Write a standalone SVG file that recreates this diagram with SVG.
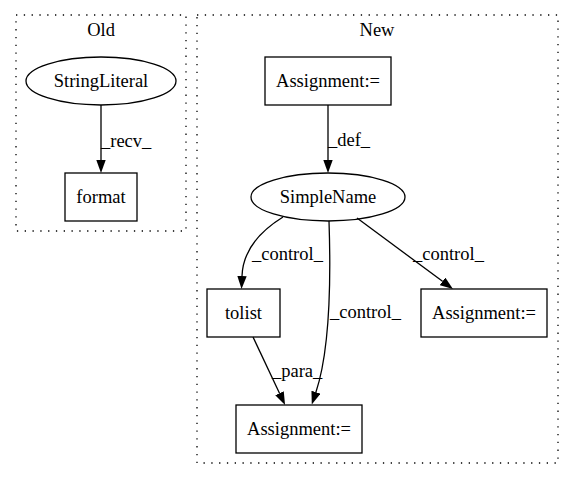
<svg xmlns="http://www.w3.org/2000/svg" width="573" height="480" viewBox="0 0 573 480">
<style>
text{font-family:"Liberation Serif","Times New Roman",serif;font-size:18.5px;fill:#000}
.c{text-anchor:middle}
.cl{fill:none;stroke:#000;stroke-width:1.3;stroke-dasharray:1.3,6.5}
.n{fill:none;stroke:#000;stroke-width:1.3}
.e{fill:none;stroke:#000;stroke-width:1.3}
</style>
<defs>
<marker id="a" markerUnits="userSpaceOnUse" viewBox="0 0 13 9.4" refX="0" refY="4.7" markerWidth="13" markerHeight="9.4" orient="auto">
<path d="M0,0 L13,4.7 L0,9.4 z" fill="#000"/>
</marker>
</defs>
<rect fill="#fff" width="573" height="480"/>
<g id="cluster_old">
<rect class="cl" x="16" y="15" width="170" height="216"/>
<text class="c" x="101" y="36">Old</text>
</g>
<g id="cluster_new">
<rect class="cl" x="197" y="15" width="361" height="448"/>
<text class="c" x="377" y="36">New</text>
</g>
<g id="StringLiteral">
<ellipse class="n" cx="101" cy="81" rx="75" ry="24"/>
<text class="c" x="101" y="87">StringLiteral</text>
</g>
<g id="format">
<rect class="n" x="65" y="173" width="72" height="48"/>
<text class="c" x="101" y="203">format</text>
</g>
<g id="Assignment1">
<rect class="n" x="265" y="57" width="126" height="48"/>
<text class="c" x="328" y="87">Assignment:=</text>
</g>
<g id="SimpleName">
<ellipse class="n" cx="328" cy="197" rx="77" ry="24"/>
<text class="c" x="328" y="203">SimpleName</text>
</g>
<g id="tolist">
<rect class="n" x="207" y="289" width="73" height="48"/>
<text class="c" x="243.5" y="319">tolist</text>
</g>
<g id="Assignment2">
<rect class="n" x="421" y="289" width="126" height="48"/>
<text class="c" x="484" y="319">Assignment:=</text>
</g>
<g id="Assignment3">
<rect class="n" x="236" y="405" width="126" height="48"/>
<text class="c" x="299" y="435">Assignment:=</text>
</g>
<g id="edges">
<path class="e" d="M101,105 L101,160" marker-end="url(#a)"/>
<text x="101" y="147">_recv_</text>
<path class="e" d="M328,105 L328,160" marker-end="url(#a)"/>
<text x="328" y="146">_def_</text>
<path class="e" d="M283,217 C262,230 243,248 242,276" marker-end="url(#a)"/>
<text x="252" y="260">_control_</text>
<path class="e" d="M357,218 L442.5,281.3" marker-end="url(#a)"/>
<text x="413" y="260">_control_</text>
<path class="e" d="M329,221 C331,280 330,350 315.9,392.2" marker-end="url(#a)"/>
<text x="330" y="318">_control_</text>
<path class="e" d="M253,337 L279.5,393.2" marker-end="url(#a)"/>
<text x="272" y="377">_para_</text>
</g>
</svg>
